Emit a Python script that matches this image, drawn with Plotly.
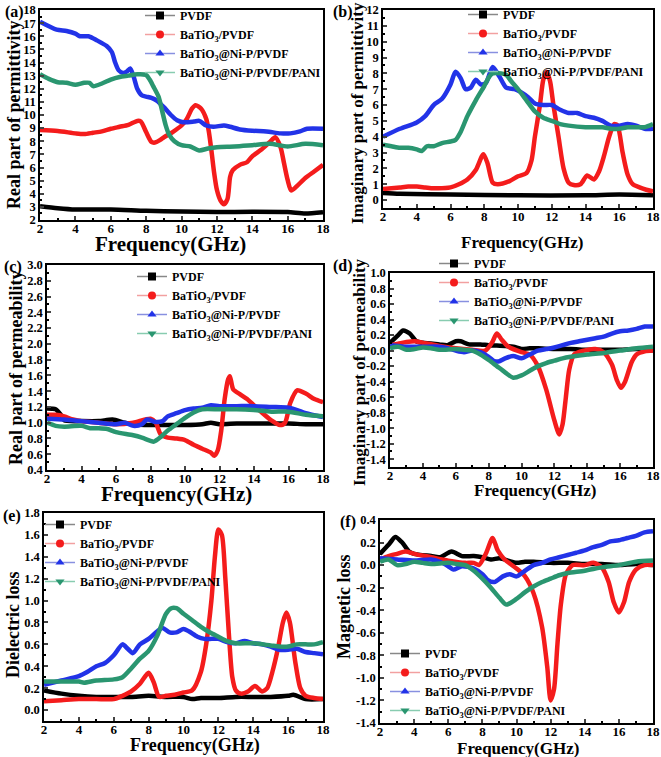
import plotly.graph_objects as go

# ---------------- DATA ----------------
SERIES = ["PVDF", "BaTiO<sub>3</sub>/PVDF", "BaTiO<sub>3</sub>@Ni-P/PVDF", "BaTiO<sub>3</sub>@Ni-P/PVDF/PANI"]

# (a) Real part of permittivity
a_pvdf_f = [2, 3, 4, 6, 8, 10, 12, 14, 16, 17, 18]
a_pvdf = [3.05, 2.9, 2.8, 2.8, 2.7, 2.65, 2.6, 2.62, 2.6, 2.5, 2.6]
a_bt_f = [2, 3, 4, 4.5, 5, 5.5, 6, 6.5, 7, 7.5, 7.7, 8.0, 8.3, 8.5, 8.8, 9, 9.5, 10, 10.3, 10.6, 10.8, 11.1, 11.4, 11.55, 11.7, 11.85, 12.0, 12.2, 12.4, 12.6, 12.75, 12.9, 13.3, 13.7, 14, 14.5, 15, 15.3, 15.6, 15.8, 16.0, 16.2, 16.5, 17, 17.5, 18]
a_bt = [8.85, 8.78, 8.6, 8.55, 8.65, 8.75, 8.95, 9.1, 9.25, 9.55, 9.5, 8.7, 7.95, 7.9, 8.1, 8.3, 8.7, 9.2, 9.7, 10.5, 10.75, 10.5, 9.7, 8.7, 7.2, 5.55, 4.3, 3.5, 3.2, 3.6, 5.3, 5.8, 6.2, 6.4, 6.85, 7.35, 7.95, 8.3, 7.55, 6.3, 5.05, 4.25, 4.55, 5.2, 5.7, 6.2]
a_ni_f = [2, 2.94, 3.5, 4, 4.26, 4.74, 5.2, 5.77, 6.06, 6.25, 6.45, 6.7, 6.9, 7.1, 7.3, 7.5, 7.75, 8.0, 8.3, 8.6, 9.0, 9.4, 9.75, 10.1, 10.7, 11, 11.4, 11.8, 12.4, 12.75, 13.3, 14, 14.8, 15.6, 16.15, 16.7, 17.1, 18]
a_ni = [17.1, 16.5, 16.4, 16.2, 16.0, 16.0, 15.7, 15.25, 14.8, 14.0, 13.4, 13.2, 13.3, 13.55, 12.9, 12.0, 11.5, 11.4, 11.3, 11.1, 10.6, 10.0, 9.6, 9.45, 9.5, 9.55, 9.2, 9.1, 9.2, 9.1, 8.9, 8.8, 8.75, 8.6, 8.6, 8.75, 8.95, 8.95]
a_pani_f = [2, 2.5, 3, 3.5, 4, 4.5, 4.8, 5.0, 5.5, 6, 6.5, 7, 7.5, 8.0, 8.2, 8.4, 8.7, 8.9, 9.1, 9.3, 9.6, 10, 10.5, 11, 11.5, 12, 13, 14, 15, 16, 17, 18]
a_pani = [13.1, 12.75, 12.5, 12.45, 12.3, 12.45, 12.45, 12.2, 12.4, 12.7, 12.9, 13.0, 13.1, 13.05, 12.7, 12.2, 11.4, 10.35, 9.25, 8.5, 8.0, 7.7, 7.6, 7.3, 7.45, 7.55, 7.6, 7.7, 7.8, 7.6, 7.8, 7.7]

# (b) Imaginary part of permittivity
b_pvdf_f = [2, 3, 6, 10, 14, 16, 18]
b_pvdf = [0.45, 0.4, 0.35, 0.3, 0.3, 0.35, 0.3]
b_bt_f = [2, 3, 3.5, 4, 4.5, 5, 6, 6.5, 7, 7.5, 7.95, 8.2, 8.5, 8.8, 9.5, 10, 10.5, 10.8, 11, 11.3, 11.5, 11.7, 11.9, 12.1, 12.4, 12.7, 13, 13.3, 13.7, 14.1, 14.5, 14.8, 15.1, 15.4, 15.7, 15.9, 16.2, 16.5, 16.8, 17.2, 17.6, 18]
b_bt = [0.7, 0.8, 0.85, 0.85, 0.8, 0.75, 0.8, 1.0, 1.3, 1.9, 2.9, 2.3, 1.1, 1.0, 1.2, 1.5, 1.7, 2.5, 4.0, 6.0, 7.6, 8.1, 7.5, 6.0, 4.0, 2.0, 1.1, 0.95, 1.0, 1.55, 1.3, 1.8, 2.8, 4.0, 4.8, 4.7, 3.0, 1.6, 1.0, 0.8, 0.65, 0.55]
b_ni_f = [2, 3, 4, 4.5, 5, 5.5, 6, 6.3, 6.6, 6.9, 7.2, 7.5, 7.8, 8.1, 8.5, 8.9, 9.3, 9.8, 10.2, 10.6, 11, 11.5, 12, 12.5, 13, 13.5, 14, 14.5, 15, 15.5, 16, 16.5, 17, 17.5, 18]
b_ni = [4.0, 4.5, 4.9, 5.3, 6.0, 6.4, 7.3, 8.1, 7.7, 7.0, 7.1, 7.6, 7.3, 7.4, 8.4, 7.8, 7.1, 7.0, 6.8, 6.5, 6.1, 6.0, 6.0, 5.7, 5.5, 5.5, 5.3, 5.2, 5.0, 4.7, 4.7, 4.8, 4.7, 4.5, 4.5]
b_pani_f = [2, 2.5, 3, 3.5, 4, 4.3, 4.6, 5, 5.5, 6, 6.3, 6.6, 7, 7.5, 8, 8.3, 8.5, 9, 9.3, 9.6, 10, 10.5, 11, 11.5, 12, 12.5, 13, 14, 15, 15.5, 16, 16.5, 17, 17.5, 18]
b_pani = [3.5, 3.4, 3.3, 3.3, 3.2, 3.1, 3.4, 3.4, 3.6, 3.7, 3.8, 4.3, 5.3, 6.3, 7.2, 7.8, 8.0, 8.0, 7.9, 7.5, 7.0, 6.3, 5.6, 5.2, 5.0, 4.8, 4.7, 4.6, 4.6, 4.5, 4.5, 4.6, 4.6, 4.6, 4.8]

# (c) Real part of permeability
c_pvdf_f = [2, 2.5, 2.8, 3, 4, 5, 5.8, 6.5, 7, 8, 9, 10, 11, 11.5, 12, 13, 14, 15, 16, 17, 18]
c_pvdf = [1.18, 1.17, 1.1, 1.03, 1.02, 1.02, 1.04, 1.0, 0.98, 0.97, 0.97, 0.97, 0.98, 1.0, 0.98, 0.99, 0.99, 0.99, 0.99, 0.98, 0.98]
c_bt_f = [2, 2.5, 3, 3.5, 4, 5, 6, 7, 8, 8.3, 8.6, 9, 9.5, 10, 10.5, 11, 11.5, 11.7, 11.9, 12.1, 12.3, 12.5, 12.6, 12.8, 13.2, 13.6, 14, 14.5, 15, 15.5, 15.8, 16.1, 16.5, 17, 17.5, 18]
c_bt = [1.1, 1.1, 1.08, 1.04, 1.02, 1.0, 0.98, 1.0, 1.05, 1.0, 0.85, 0.81, 0.8, 0.78, 0.72, 0.67, 0.62, 0.58, 0.65, 0.9, 1.3, 1.55, 1.59, 1.42, 1.36, 1.3, 1.22, 1.12, 1.03, 0.97, 1.0, 1.25, 1.41, 1.37, 1.3, 1.26]
c_ni_f = [2, 3, 4, 5, 6, 6.5, 7, 7.5, 7.8, 8.3, 8.7, 9, 9.5, 10, 10.5, 11, 11.5, 12, 13, 14, 15, 16, 16.5, 17, 18]
c_ni = [1.05, 1.04, 1.02, 1.0, 0.98, 1.0, 0.96, 0.98, 1.04, 1.01, 1.02, 1.08, 1.12, 1.16, 1.18, 1.19, 1.22, 1.21, 1.21, 1.21, 1.2, 1.19, 1.16, 1.12, 1.07]
c_pani_f = [2, 2.5, 3, 4, 4.5, 5, 5.5, 6, 7, 7.5, 8, 8.2, 8.6, 9, 9.5, 10, 10.5, 11, 12, 13, 14, 15, 16, 17, 18]
c_pani = [1.0, 0.96, 0.95, 0.96, 0.93, 0.93, 0.92, 0.88, 0.84, 0.81, 0.77, 0.76, 0.82, 0.9, 0.98, 1.06, 1.13, 1.17, 1.17, 1.17, 1.16, 1.14, 1.14, 1.1, 1.08]

# (d) Imaginary part of permeability
d_pvdf_f = [2, 2.5, 2.8, 3.2, 3.6, 4, 5, 5.5, 6, 6.3, 6.8, 7.5, 8, 9, 9.5, 10, 10.5, 11, 12, 13, 14, 15, 16, 17, 18]
d_pvdf = [0.1, 0.2, 0.26, 0.22, 0.12, 0.1, 0.08, 0.07, 0.12, 0.12, 0.08, 0.08, 0.07, 0.06, 0.05, 0.02, 0.03, 0.03, 0.02, 0.02, 0.01, 0.01, 0.01, 0.02, 0.0]
d_bt_f = [2, 2.5, 3, 3.5, 4, 5, 6, 7, 7.8, 8.2, 8.5, 8.8, 9.2, 10, 10.5, 11, 11.5, 12, 12.3, 12.5, 12.7, 12.9, 13.2, 13.8, 14.5, 15, 15.5, 15.8, 16.05, 16.3, 16.7, 17, 17.5, 18]
d_bt = [0.07, 0.09, 0.11, 0.12, 0.1, 0.06, 0.03, 0.01, 0.0, 0.1, 0.22, 0.14, 0.05, -0.02, -0.05, -0.2, -0.5, -0.9, -1.08, -0.95, -0.6, -0.25, -0.05, 0.0, 0.02, -0.02, -0.18, -0.38, -0.48, -0.4, -0.15, -0.05, -0.01, 0.0]
d_ni_f = [2, 3, 4, 5, 5.5, 6, 6.5, 7, 7.5, 8, 8.3, 8.6, 9, 9.5, 10, 10.5, 11, 11.5, 12, 12.5, 13, 13.5, 14, 14.5, 15, 15.5, 16, 16.5, 17, 17.5, 18]
d_ni = [0.07, 0.05, 0.05, 0.05, 0.03, 0.0, -0.02, 0.0, -0.02, -0.08, -0.13, -0.14, -0.1, -0.07, -0.1, -0.05, 0.0, 0.02, 0.04, 0.07, 0.1, 0.12, 0.14, 0.16, 0.18, 0.22, 0.25, 0.26, 0.28, 0.31, 0.31]
d_pani_f = [2, 2.5, 3, 3.5, 4, 4.5, 5, 6, 6.5, 7, 7.5, 8, 8.5, 9, 9.5, 10, 10.5, 11, 11.5, 12, 12.5, 13, 14, 15, 16, 17, 18]
d_pani = [0.03, 0.05, 0.01, 0.02, 0.04, 0.03, 0.01, 0.02, 0.01, 0.0, -0.05, -0.12, -0.2, -0.28, -0.35, -0.32, -0.26, -0.2, -0.16, -0.13, -0.1, -0.08, -0.05, -0.03, 0.0, 0.03, 0.05]

# (e) Dielectric loss
e_pvdf_f = [2, 3, 4, 5, 6, 7, 8, 9, 10, 10.5, 11, 12, 13, 14, 15, 16, 16.3, 17, 18]
e_pvdf = [0.18, 0.15, 0.13, 0.12, 0.12, 0.12, 0.13, 0.12, 0.12, 0.1, 0.11, 0.11, 0.12, 0.12, 0.12, 0.13, 0.14, 0.1, 0.1]
e_bt_f = [2, 3, 4, 5, 6, 6.5, 7, 7.5, 8, 8.3, 8.6, 9, 9.5, 10, 10.5, 11, 11.3, 11.6, 11.8, 12.0, 12.2, 12.4, 12.6, 12.8, 13.0, 13.3, 13.7, 14.1, 14.5, 14.8, 15.1, 15.4, 15.7, 15.9, 16.1, 16.4, 16.7, 17, 17.5, 18]
e_bt = [0.08, 0.09, 0.1, 0.1, 0.1, 0.13, 0.17, 0.24, 0.34, 0.25, 0.12, 0.13, 0.14, 0.16, 0.18, 0.35, 0.6, 1.0, 1.4, 1.65, 1.6, 1.2, 0.7, 0.3, 0.18, 0.15, 0.17, 0.22, 0.17, 0.2, 0.35, 0.55, 0.8, 0.89, 0.8, 0.45, 0.2, 0.13, 0.11, 0.1]
e_ni_f = [2, 3, 4, 4.5, 5, 5.5, 6, 6.5, 6.8, 7.1, 7.5, 8, 8.5, 8.8, 9.2, 9.6, 10, 10.3, 10.8, 11.2, 11.5, 12, 12.5, 13, 13.5, 14, 14.5, 15, 15.5, 16, 16.5, 17, 17.5, 18]
e_ni = [0.23, 0.27, 0.31, 0.35, 0.4, 0.43, 0.5, 0.6, 0.56, 0.52, 0.6, 0.65, 0.72, 0.75, 0.71, 0.71, 0.74, 0.72, 0.67, 0.65, 0.65, 0.65, 0.62, 0.61, 0.63, 0.61, 0.6, 0.58, 0.55, 0.55, 0.56, 0.53, 0.52, 0.51]
e_pani_f = [2, 3, 4, 4.3, 5, 6, 6.5, 7, 7.5, 8, 8.5, 9, 9.3, 9.6, 10, 10.5, 11, 11.5, 12, 12.5, 13, 14, 15, 15.5, 16, 16.5, 17, 17.5, 18]
e_pani = [0.26, 0.26, 0.26, 0.25, 0.27, 0.28, 0.3, 0.38, 0.47, 0.54, 0.68, 0.88, 0.93, 0.93, 0.88, 0.82, 0.76, 0.71, 0.67, 0.63, 0.61, 0.61, 0.59, 0.58, 0.58, 0.6, 0.6, 0.6, 0.62]

# (f) Magnetic loss
f_pvdf_f = [2, 2.5, 2.9, 3.3, 3.7, 4, 5, 5.5, 6.2, 6.8, 7.5, 8, 8.5, 9, 9.5, 10, 10.5, 11, 12, 13, 14, 15, 16, 17, 18]
f_pvdf = [0.1, 0.18, 0.25, 0.2, 0.12, 0.1, 0.08, 0.07, 0.12, 0.08, 0.08, 0.07, 0.05, 0.06, 0.04, 0.02, 0.03, 0.03, 0.02, 0.02, 0.01, 0.01, 0.0, 0.01, 0.0]
f_bt_f = [2, 2.5, 3, 3.5, 4, 5, 6, 7, 7.5, 7.8, 8.2, 8.6, 8.9, 9.3, 10, 10.5, 11, 11.5, 11.8, 12.0, 12.2, 12.4, 12.6, 12.9, 13.3, 14, 14.5, 15, 15.4, 15.7, 16.0, 16.3, 16.6, 17, 17.5, 18]
f_bt = [0.05, 0.08, 0.1, 0.12, 0.1, 0.07, 0.04, 0.02, 0.02, 0.0, 0.1, 0.24, 0.13, 0.05, -0.03, -0.1, -0.25, -0.55, -0.9, -1.2, -1.1, -0.7, -0.35, -0.08, 0.0, 0.0, 0.02, -0.02, -0.15, -0.33, -0.42, -0.33, -0.15, -0.04, 0.0, 0.0]
f_ni_f = [2, 3, 4, 5, 5.5, 6, 6.3, 6.8, 7.5, 8, 8.3, 8.7, 9.2, 9.6, 10, 10.5, 11, 11.5, 12, 12.5, 13, 13.5, 14, 14.5, 15, 15.5, 16, 16.5, 17, 17.5, 18]
f_ni = [0.06, 0.05, 0.04, 0.05, 0.03, -0.01, -0.04, -0.01, -0.03, -0.08, -0.13, -0.15, -0.1, -0.08, -0.1, -0.05, 0.0, 0.02, 0.05, 0.07, 0.09, 0.11, 0.13, 0.16, 0.18, 0.21, 0.22, 0.24, 0.26, 0.29, 0.3]
f_pani_f = [2, 2.5, 3, 3.5, 4, 4.5, 5, 6, 6.5, 7, 7.5, 8, 8.5, 9, 9.4, 10, 10.5, 11, 11.5, 12, 12.5, 13, 14, 15, 16, 17, 18]
f_pani = [0.03, 0.05, 0.0, 0.01, 0.03, 0.02, 0.01, 0.02, 0.01, 0.0, -0.05, -0.12, -0.2, -0.29, -0.35, -0.3, -0.24, -0.19, -0.15, -0.12, -0.09, -0.07, -0.05, -0.02, 0.0, 0.03, 0.04]

Y_TITLES = ["Real part of permittivity", "Imaginary part of permittivity",
            "Real part of permeability", "Imaginary part of permeability",
            "Dielectric loss", "Magnetic loss"]
X_TITLE = "Frequency(GHz)"
PANEL_LABELS = ["(a)", "(b)", "(c)", "(d)", "(e)", "(f)"]
X_TICKS = [2, 4, 6, 8, 10, 12, 14, 16, 18]
Y_TICKS = [
    list(range(2, 19)),
    list(range(0, 13)),
    [0.4, 0.6, 0.8, 1.0, 1.2, 1.4, 1.6, 1.8, 2.0, 2.2, 2.4, 2.6, 2.8, 3.0],
    [-1.4, -1.2, -1.0, -0.8, -0.6, -0.4, -0.2, 0.0, 0.2, 0.4, 0.6, 0.8, 1.0],
    [0.0, 0.2, 0.4, 0.6, 0.8, 1.0, 1.2, 1.4, 1.6, 1.8],
    [-1.4, -1.2, -1.0, -0.8, -0.6, -0.4, -0.2, 0.0, 0.2, 0.4],
]
Y_DECIMALS = [0, 0, 1, 1, 1, 1]

# ---------------- STYLE / LAYOUT ----------------
W, H = 661, 757
COLORS = ["#000000", "#F41C1C", "#2233E8", "#2A9670"]
LEGEND_LINE = ["#888888", "#F2A0A0", "#8890E0", "#88CCB0"]
SYMBOLS = ["square", "circle", "triangle-up", "triangle-down"]
FONT = "Liberation Serif"

# pixel boxes: (left, right, top, bottom)
boxes = [(40, 323, 10, 220), (383, 653, 10, 208),
         (47, 323, 265, 470), (390, 653, 273, 467),
         (44, 323, 513, 721), (380, 653, 520, 723)]
yranges = [(2, 18), (-0.5, 12), (0.4, 3.0), (-1.5, 1.0), (-0.1, 1.8), (-1.4, 0.4)]
ydticks = [1, 1, 0.2, 0.2, 0.2, 0.2]
legend_pos = [(140, 1), (463, 0), (132, 262), (434, 249), (40, 510), (385, 639)]
ytitle_pos = [(14, 115), (357, 113), (16, 368), (359, 372), (13, 625), (344, 607)]
ytitle_size = [18, 17, 18, 17, 18, 18]
xtitle_pos = [(170, 244), (522, 242), (176, 494), (535, 490), (195, 745), (518, 748)]
xtitle_size = [21, 17, 21, 17, 18, 17]
label_pos = [(14, 12), (343, 12), (13, 267), (343, 266), (12, 516), (348, 522)]

panels = [
    [(a_pvdf_f, a_pvdf), (a_bt_f, a_bt), (a_ni_f, a_ni), (a_pani_f, a_pani)],
    [(b_pvdf_f, b_pvdf), (b_bt_f, b_bt), (b_ni_f, b_ni), (b_pani_f, b_pani)],
    [(c_pvdf_f, c_pvdf), (c_bt_f, c_bt), (c_ni_f, c_ni), (c_pani_f, c_pani)],
    [(d_pvdf_f, d_pvdf), (d_bt_f, d_bt), (d_ni_f, d_ni), (d_pani_f, d_pani)],
    [(e_pvdf_f, e_pvdf), (e_bt_f, e_bt), (e_ni_f, e_ni), (e_pani_f, e_pani)],
    [(f_pvdf_f, f_pvdf), (f_bt_f, f_bt), (f_ni_f, f_ni), (f_pani_f, f_pani)],
]

fig = go.Figure()
layout = dict(width=W, height=H, template="none",
              margin=dict(l=0, r=0, t=0, b=0, pad=0, autoexpand=False),
              paper_bgcolor="white", plot_bgcolor="white",
              font=dict(family=FONT, size=12, color="black", weight="bold"),
              annotations=[])

for p, series in enumerate(panels):
    k = "" if p == 0 else str(p + 1)
    xa, ya = "x" + k, "y" + k
    lg = "legend" if p == 0 else "legend" + str(p + 1)
    for s, (fx, fy) in enumerate(series):
        fig.add_trace(go.Scatter(x=fx, y=fy, mode="lines", xaxis=xa, yaxis=ya,
                                 line=dict(color=COLORS[s], width=4.5, shape="spline", smoothing=0.7),
                                 showlegend=False, hoverinfo="x+y"))
    for s in range(4):
        fig.add_trace(go.Scatter(x=[None], y=[None], mode="lines+markers", xaxis=xa, yaxis=ya,
                                 name=SERIES[s], legend=lg,
                                 line=dict(color=LEGEND_LINE[s], width=1.5),
                                 marker=dict(symbol=SYMBOLS[s], color=COLORS[s], size=8)))
    l, r, t, b = boxes[p]
    y0, y1 = yranges[p]
    ytext = [f"{v:.{Y_DECIMALS[p]}f}" for v in Y_TICKS[p]]
    layout["xaxis" + k] = dict(domain=[l / W, r / W], range=[2, 18], anchor=ya,
                               tickvals=X_TICKS, ticks="inside", ticklen=4, tickwidth=1.5,
                               ticklabelstandoff=-4,
                               showline=True, linecolor="black", linewidth=1.5, mirror=True,
                               showgrid=False, zeroline=False, automargin=False,
                               minor=dict(ticks="inside", ticklen=2, dtick=1, tickcolor="black"),
                               tickfont=dict(family=FONT, size=13, weight="bold"))
    layout["yaxis" + k] = dict(domain=[1 - b / H, 1 - t / H], range=[y0, y1], anchor=xa,
                               tickvals=Y_TICKS[p], ticktext=ytext,
                               ticks="inside", ticklen=4, tickwidth=1.5,
                               showline=True, linecolor="black", linewidth=1.5, mirror=True,
                               showgrid=False, zeroline=False, automargin=False,
                               minor=dict(ticks="inside", ticklen=2, dtick=ydticks[p] / 2,
                                          tick0=0, tickcolor="black"),
                               tickfont=dict(family=FONT, size=12.5, weight="bold"))
    lx, ly = legend_pos[p]
    layout[lg] = dict(x=lx / W, y=1 - ly / H, xanchor="left", yanchor="top",
                      bgcolor="rgba(0,0,0,0)", font=dict(family=FONT, size=12, weight="bold"),
                      tracegroupgap=0)
    tx, ty = ytitle_pos[p]
    layout["annotations"].append(dict(x=tx / W, y=1 - ty / H, xref="paper", yref="paper",
                                      xanchor="center", yanchor="middle",
                                      text=Y_TITLES[p], textangle=-90, showarrow=False,
                                      font=dict(family=FONT, size=ytitle_size[p], weight="bold")))
    tx, ty = xtitle_pos[p]
    layout["annotations"].append(dict(x=tx / W, y=1 - ty / H, xref="paper", yref="paper",
                                      xanchor="center", yanchor="middle",
                                      text=X_TITLE, showarrow=False,
                                      font=dict(family=FONT, size=xtitle_size[p], weight="bold")))
    tx, ty = label_pos[p]
    layout["annotations"].append(dict(x=tx / W, y=1 - ty / H, xref="paper", yref="paper",
                                      xanchor="center", yanchor="middle",
                                      text=PANEL_LABELS[p], showarrow=False,
                                      font=dict(family=FONT, size=16, weight="bold")))

fig.update_layout(**layout)
fig.write_html("out.html", config={"displayModeBar": False},
               post_script="document.body.style.margin='0px';document.body.style.padding='0px';")
